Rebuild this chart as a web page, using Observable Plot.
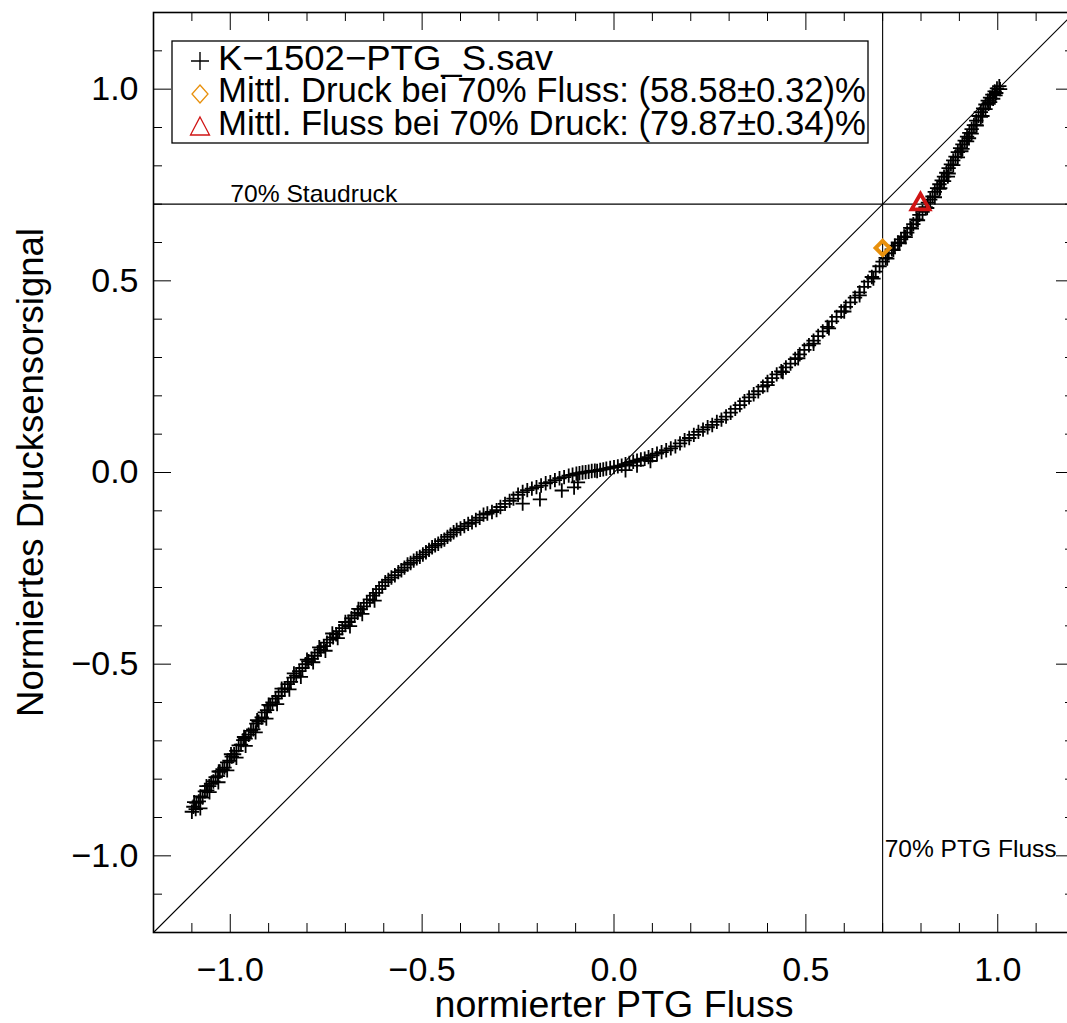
<!DOCTYPE html>
<html>
<head>
<meta charset="utf-8">
<script src="https://cdn.jsdelivr.net/npm/d3@7"></script>
<script src="https://cdn.jsdelivr.net/npm/@observablehq/plot@0.6"></script>
<style>
  html, body { margin: 0; padding: 0; overflow: hidden; background: #fff; }
  #chart svg { display: block; max-width: none !important; }
</style>
</head>
<body>
<div id="chart"></div>
<script>
// Normalised PTG flow vs. normalised pressure-sensor signal (K-1502, PTG_S.sav)
const ptgFlow = [
  -1.100,-1.096,-1.090,-1.088,-1.082,-1.078,-1.072,-1.066,-1.060,-1.055,
  -1.050,-1.044,-1.038,-1.032,-1.027,-1.020,-1.015,-1.008,-1.002,-0.996,
  -0.990,-0.984,-0.978,-0.972,-0.966,-0.960,-0.952,-0.946,-0.940,-0.932,
  -0.926,-0.918,-0.910,-0.904,-0.896,-0.890,-0.882,-0.874,-0.866,-0.858,
  -0.850,-0.842,-0.835,-0.828,-0.820,-0.812,-0.804,-0.796,-0.788,-0.780,
  -0.772,-0.764,-0.756,-0.748,-0.740,-0.732,-0.724,-0.716,-0.708,-0.700,
  -0.692,-0.684,-0.676,-0.668,-0.660,-0.652,-0.644,-0.636,
  -1.078,-1.054,-1.031,-1.008,-0.984,-0.960,-0.934,-0.906,-0.878,-0.846,
  -0.816,-0.784,-0.752,-0.720,-0.688,-0.656,-0.624,
  -1.094,-1.062,-1.030,-0.998,-0.964,-0.930,-0.900,-0.866,-0.834,-0.800,
  -0.768,-0.734,-0.700,-0.666,
  -0.628,-0.620,-0.612,-0.604,-0.596,-0.588,-0.580,-0.571,-0.562,-0.554,
  -0.546,-0.538,-0.530,-0.522,-0.514,-0.506,-0.498,-0.490,-0.482,-0.474,
  -0.466,-0.458,-0.450,-0.442,-0.434,-0.426,-0.418,-0.410,-0.400,-0.390,
  -0.380,-0.370,-0.360,-0.350,-0.340,-0.330,-0.318,-0.306,-0.296,-0.284,
  -0.272,-0.262,-0.250,-0.238,-0.226,-0.214,-0.202,-0.190,-0.178,-0.166,
  -0.154,-0.142,-0.130,
  -0.238,-0.193,-0.136,-0.104,-0.094,
  -0.118,-0.108,-0.098,-0.090,-0.082,-0.074,-0.066,-0.058,-0.050,-0.044,
  -0.036,-0.028,-0.020,-0.010,0.000,0.010,0.020,0.030,0.040,0.050,
  0.060,0.070,0.080,0.090,0.100,0.112,0.124,0.136,0.148,0.160,
  0.172,0.184,0.196,0.208,0.220,0.232,0.244,0.256,0.268,0.280,
  0.292,0.304,0.316,0.328,0.340,
  0.030,0.060,0.095,
  0.352,0.364,0.376,0.388,0.400,0.412,0.424,0.436,0.448,0.460,
  0.472,0.484,0.496,0.508,0.520,0.532,0.544,0.556,0.568,0.580,
  0.592,0.604,0.616,0.628,0.640,0.652,0.662,0.672,0.682,0.692,
  0.400,0.440,0.480,0.520,0.560,0.600,0.640,0.676,
  0.700,0.708,0.716,0.724,0.732,0.740,0.748,0.756,0.764,0.772,
  0.780,0.788,0.796,0.804,0.812,0.818,0.824,0.830,0.836,0.842,
  0.848,0.854,0.860,0.866,0.872,0.878,0.884,0.890,0.896,0.902,
  0.908,0.914,0.920,0.926,0.932,0.938,0.944,0.950,0.956,0.962,
  0.968,0.974,0.980,0.986,0.992,0.998,1.004,
  0.996,0.988,0.976,0.905,0.925,0.945,0.960,0.870,0.850,
  0.712,0.728,0.744,0.760,0.776,0.792,0.816,0.836,0.848,0.860,
  0.872,0.884,0.896,0.908,0.920,0.932,0.944,0.956,0.968,0.980,
  0.994,1.006
];
const pressureSignal = [
  -0.885,-0.872,-0.878,-0.862,-0.858,-0.845,-0.848,-0.832,-0.829,-0.818,
  -0.812,-0.806,-0.795,-0.792,-0.780,-0.774,-0.770,-0.756,-0.752,-0.741,
  -0.735,-0.726,-0.712,-0.710,-0.698,-0.694,-0.684,-0.674,-0.670,-0.655,
  -0.650,-0.639,-0.626,-0.620,-0.608,-0.600,-0.590,-0.583,-0.572,-0.563,
  -0.552,-0.546,-0.535,-0.530,-0.518,-0.510,-0.500,-0.492,-0.486,-0.478,
  -0.470,-0.462,-0.453,-0.444,-0.436,-0.430,-0.422,-0.414,-0.406,-0.398,
  -0.390,-0.380,-0.373,-0.366,-0.357,-0.349,-0.340,-0.331,
  -0.876,-0.834,-0.808,-0.777,-0.744,-0.713,-0.678,-0.642,-0.604,-0.566,
  -0.533,-0.495,-0.465,-0.432,-0.401,-0.369,-0.334,
  -0.860,-0.818,-0.780,-0.735,-0.690,-0.646,-0.606,-0.564,-0.524,-0.488,
  -0.456,-0.420,-0.390,-0.356,
  -0.321,-0.314,-0.304,-0.296,-0.286,-0.280,-0.274,-0.268,-0.260,-0.255,
  -0.248,-0.240,-0.236,-0.230,-0.224,-0.220,-0.214,-0.208,-0.202,-0.195,
  -0.190,-0.186,-0.179,-0.175,-0.168,-0.162,-0.156,-0.150,-0.146,-0.140,
  -0.134,-0.130,-0.124,-0.118,-0.110,-0.107,-0.103,-0.098,-0.090,-0.082,
  -0.074,-0.068,-0.058,-0.051,-0.046,-0.042,-0.038,-0.034,-0.028,-0.025,
  -0.020,-0.015,-0.012,
  -0.081,-0.070,-0.047,-0.039,-0.026,
  -0.008,-0.006,-0.003,-0.002,0.000,0.001,0.002,0.004,0.005,0.004,
  0.007,0.008,0.010,0.012,0.014,0.016,0.018,0.022,0.025,0.028,
  0.031,0.034,0.036,0.040,0.045,0.049,0.053,0.058,0.063,0.068,
  0.076,0.084,0.090,0.098,0.106,0.112,0.118,0.124,0.132,0.138,
  0.146,0.156,0.166,0.176,0.186,
  0.006,0.018,0.030,
  0.196,0.204,0.212,0.224,0.236,0.246,0.256,0.264,0.274,0.284,
  0.296,0.308,0.320,0.332,0.344,0.356,0.368,0.380,0.394,0.406,
  0.420,0.432,0.444,0.456,0.470,0.484,0.498,0.510,0.524,0.538,
  0.228,0.262,0.298,0.336,0.376,0.420,0.462,0.506,
  0.550,0.560,0.572,0.582,0.592,0.600,0.608,0.616,0.626,0.638,
  0.648,0.660,0.672,0.680,0.692,0.704,0.712,0.720,0.732,0.742,
  0.752,0.762,0.772,0.782,0.794,0.804,0.814,0.824,0.836,0.846,
  0.856,0.866,0.876,0.886,0.896,0.906,0.918,0.930,0.940,0.950,
  0.960,0.970,0.978,0.986,0.994,1.002,1.008,
  0.990,0.975,0.962,0.838,0.872,0.905,0.930,0.772,0.742,
  0.558,0.580,0.598,0.614,0.636,0.658,0.690,0.718,0.740,0.760,
  0.780,0.802,0.822,0.844,0.864,0.884,0.906,0.928,0.948,0.966,
  0.984,1.000
];

// Mean pressure at 70 % flow and mean flow at 70 % pressure, in percent
const meanPressureAt70 = 58.58, meanPressureErr = 0.32;
const meanFlowAt70 = 79.87, meanFlowErr = 0.34;
const referenceLevel = 0.7;

// Axis limits and ticks
const axisLimits = [-1.2, 1.2];
const majorTicks = [-1.0, -0.5, 0.0, 0.5, 1.0];
const minorTicks = [-1.1, -0.9, -0.8, -0.7, -0.6, -0.4, -0.3, -0.2, -0.1,
                    0.1, 0.2, 0.3, 0.4, 0.6, 0.7, 0.8, 0.9, 1.1];

const datasetName = "K\u22121502\u2212PTG_S.sav";
const xTitle = "normierter PTG Fluss";
const yTitle = "Normiertes Drucksensorsignal";
const staudruckLabel = "70% Staudruck";
const flussLabel = "70% PTG Fluss";

const FONT = "'Liberation Sans', Arial, Helvetica, sans-serif";
const ORANGE = "#E8900C";
const RED = "#D01414";

const W = 1075, H = 1023;
const M = {top: 12, right: 1, bottom: 91, left: 153};
const FW = W - M.left - M.right;
const FH = H - M.top - M.bottom;
const MAJOR = 18, MINOR = 9;

const points = ptgFlow.map((x, i) => ({x, y: pressureSignal[i]}));
const fmt = d => (d < 0 ? "\u2212" : "") + Math.abs(d).toFixed(1);
const pct = (v, e) => `(${v.toFixed(2)}\u00B1${e.toFixed(2)})%`;
const legendLabels = [
  datasetName,
  `Mittl. Druck bei 70% Fluss: ${pct(meanPressureAt70, meanPressureErr)}`,
  `Mittl. Fluss bei 70% Druck: ${pct(meanFlowAt70, meanFlowErr)}`
];

const id = d => d;
const chart = Plot.plot({
  width: W, height: H,
  marginTop: M.top, marginRight: M.right, marginBottom: M.bottom, marginLeft: M.left,
  x: {domain: axisLimits, axis: null},
  y: {domain: axisLimits, axis: null},
  style: {fontFamily: FONT, background: "white", color: "black", overflow: "visible"},
  marks: [
    // identity and 70 % reference lines
    Plot.line(axisLimits, {x: id, y: id, stroke: "black", strokeWidth: 1.1}),
    Plot.ruleY([referenceLevel], {stroke: "black", strokeWidth: 1.1}),
    Plot.ruleX([referenceLevel], {stroke: "black", strokeWidth: 1.1}),

    // inward ticks on all four sides
    Plot.tickX(majorTicks, {x: id, insetTop: FH - MAJOR, stroke: "black"}),
    Plot.tickX(minorTicks, {x: id, insetTop: FH - MINOR, stroke: "black"}),
    Plot.tickX(majorTicks, {x: id, insetBottom: FH - MAJOR, stroke: "black"}),
    Plot.tickX(minorTicks, {x: id, insetBottom: FH - MINOR, stroke: "black"}),
    Plot.tickY(majorTicks, {y: id, insetRight: FW - MAJOR, stroke: "black"}),
    Plot.tickY(minorTicks, {y: id, insetRight: FW - MINOR, stroke: "black"}),
    Plot.tickY(majorTicks, {y: id, insetLeft: FW - MAJOR, stroke: "black"}),
    Plot.tickY(minorTicks, {y: id, insetLeft: FW - MINOR, stroke: "black"}),

    // tick labels
    Plot.text(majorTicks, {x: id, text: fmt, frameAnchor: "bottom", dy: 38,
      lineAnchor: "middle", fontSize: 34, fill: "black"}),
    Plot.text(majorTicks, {y: id, text: fmt, frameAnchor: "left", dx: -15,
      textAnchor: "end", lineAnchor: "middle", fontSize: 34, fill: "black"}),

    // axis titles
    Plot.text([xTitle], {text: id, frameAnchor: "bottom", dy: 73,
      lineAnchor: "middle", fontSize: 36, fill: "black"}),
    Plot.text([yTitle], {text: id, frameAnchor: "left", dx: -122.5, rotate: -90,
      textAnchor: "middle", lineAnchor: "middle", fontSize: 36.5, fill: "black"}),

    // reference line labels
    Plot.text([staudruckLabel], {text: id, x: majorTicks[0], y: referenceLevel,
      textAnchor: "start", lineAnchor: "bottom", dy: -2, fontSize: 24, fill: "black"}),
    Plot.text([flussLabel], {text: id, x: referenceLevel, y: majorTicks[0],
      textAnchor: "start", lineAnchor: "bottom", dx: 2, dy: 1, fontSize: 24, fill: "black"}),

    // measurements
    Plot.dot(points, {x: "x", y: "y", symbol: "plus", r: 4.7, stroke: "black", strokeWidth: 1.8}),

    // mean values
    Plot.dot([{x: referenceLevel, y: meanPressureAt70 / 100}], {x: "x", y: "y",
      symbol: "diamond2", r: 6.3, stroke: ORANGE, strokeWidth: 4}),
    Plot.dot([{x: meanFlowAt70 / 100, y: referenceLevel}], {x: "x", y: "y",
      symbol: "triangle2", r: 8.5, stroke: RED, strokeWidth: 3.8}),

    Plot.frame({stroke: "black", strokeWidth: 1.6})
  ]
});

// stretch the horizontal labels to their set widths
const widths = new Map([
  [xTitle, 359], [staudruckLabel, 167], [flussLabel, 172]
]);
d3.select(chart).selectAll("text").each(function () {
  const w = widths.get(this.textContent);
  if (w) d3.select(this).attr("textLength", w).attr("lengthAdjust", "spacingAndGlyphs");
});

// legend box inside the frame
const leg = d3.select(chart).append("g")
  .attr("font-family", FONT).attr("text-anchor", "start");
leg.append("rect")
  .attr("x", 172).attr("y", 41).attr("width", 696).attr("height", 102)
  .attr("fill", "white").attr("stroke", "black").attr("stroke-width", 1.3);
leg.append("path").attr("d", "M191,61h18M200,52v18")
  .attr("stroke", "black").attr("stroke-width", 1.4).attr("fill", "none");
leg.append("path").attr("d", "M200,85L208,94L200,103L192,94Z")
  .attr("stroke", ORANGE).attr("stroke-width", 1.3).attr("fill", "none");
leg.append("path").attr("d", "M200,117L209.5,135L190.5,135Z")
  .attr("stroke", RED).attr("stroke-width", 1.3).attr("fill", "none");
const legendRows = [{y: 70, w: 335}, {y: 102, w: 648}, {y: 135, w: 648}];
legendLabels.forEach((label, i) => {
  leg.append("text")
    .attr("x", 218).attr("y", legendRows[i].y)
    .attr("font-size", 35).attr("fill", "black").attr("text-anchor", "start")
    .attr("textLength", legendRows[i].w).attr("lengthAdjust", "spacingAndGlyphs")
    .text(label);
});

document.getElementById("chart").append(chart);
</script>
</body>
</html>
